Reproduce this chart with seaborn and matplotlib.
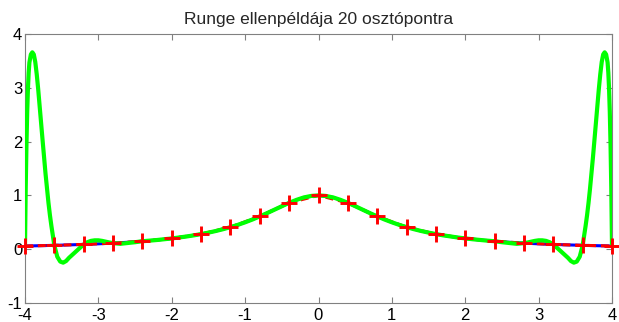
import matplotlib
matplotlib.use("Agg")
import matplotlib.pyplot as plt
import seaborn as sns

# ---------------------------------------------------------------
# DATA
# ---------------------------------------------------------------

title = "Runge ellenpéldája 20 osztópontra"

# original function, blue
func_x = [-4.0, -3.8, -3.6, -3.4, -3.2, -3.0, -2.8, -2.6, -2.4, -2.2,
          -2.0, -1.8, -1.6, -1.4, -1.2, -1.0, -0.8, -0.6, -0.4, -0.2,
          0.0, 0.2, 0.4, 0.6, 0.8, 1.0, 1.2, 1.4, 1.6, 1.8,
          2.0, 2.2, 2.4, 2.6, 2.8, 3.0, 3.2, 3.4, 3.6, 3.8, 4.0]
func_y = [0.059, 0.065, 0.072, 0.080, 0.089, 0.100, 0.113, 0.129, 0.148, 0.171,
          0.200, 0.236, 0.281, 0.338, 0.410, 0.500, 0.610, 0.735, 0.862, 0.962,
          1.000, 0.962, 0.862, 0.735, 0.610, 0.500, 0.410, 0.338, 0.281, 0.236,
          0.200, 0.171, 0.148, 0.129, 0.113, 0.100, 0.089, 0.080, 0.072, 0.065, 0.059]

# interpolation nodes, red
node_x = [-4.0, -3.6, -3.2, -2.8, -2.4, -2.0, -1.6, -1.2, -0.8, -0.4, 0.0,
          0.4, 0.8, 1.2, 1.6, 2.0, 2.4, 2.8, 3.2, 3.6, 4.0]
node_y = [0.059, 0.072, 0.089, 0.113, 0.148, 0.200, 0.281, 0.410, 0.610, 0.862, 1.000,
          0.862, 0.610, 0.410, 0.281, 0.200, 0.148, 0.113, 0.089, 0.072, 0.059]

# interpolating polynomial, green
poly_x = [-4.0, -3.99, -3.98, -3.97, -3.96, -3.95, -3.94, -3.92, -3.9, -3.88,
          -3.86, -3.84, -3.82, -3.8, -3.78, -3.76, -3.74, -3.72, -3.7, -3.68,
          -3.66, -3.64, -3.62, -3.6, -3.56, -3.52, -3.48, -3.44, -3.4, -3.36,
          -3.32, -3.28, -3.24, -3.2, -3.15, -3.1, -3.05, -3.0, -2.95, -2.9,
          -2.85, -2.8, -2.7, -2.6, -2.5, -2.4,
          -2.3, -2.2, -2.1, -2.0, -1.9, -1.8, -1.7, -1.6, -1.5, -1.4,
          -1.3, -1.2, -1.1, -1.0, -0.9, -0.8, -0.7, -0.6, -0.5, -0.4,
          -0.3, -0.2, -0.1, 0.0, 0.1, 0.2, 0.3, 0.4, 0.5, 0.6,
          0.7, 0.8, 0.9, 1.0, 1.1, 1.2, 1.3, 1.4, 1.5, 1.6,
          1.7, 1.8, 1.9, 2.0, 2.1, 2.2, 2.3,
          2.4, 2.5, 2.6, 2.7, 2.8, 2.85, 2.9, 2.95, 3.0, 3.05,
          3.1, 3.15, 3.2, 3.24, 3.28, 3.32, 3.36, 3.4, 3.44, 3.48,
          3.52, 3.56, 3.6, 3.62, 3.64, 3.66, 3.68, 3.7, 3.72, 3.74,
          3.76, 3.78, 3.8, 3.82, 3.84, 3.86, 3.88, 3.9, 3.92, 3.94,
          3.95, 3.96, 3.97, 3.98, 3.99, 4.0]
poly_y = [0.06, 1.15, 1.95, 2.55, 2.98, 3.28, 3.47, 3.62, 3.66, 3.62,
          3.48, 3.25, 2.97, 2.66, 2.34, 2.02, 1.70, 1.40, 1.12, 0.86,
          0.63, 0.43, 0.25, 0.07, -0.14, -0.23, -0.25, -0.22, -0.16, -0.11,
          -0.06, -0.01, 0.04, 0.089, 0.13, 0.155, 0.165, 0.165, 0.155, 0.14,
          0.125, 0.113, 0.10, 0.115, 0.13, 0.148,
          0.159, 0.171, 0.185, 0.200, 0.217, 0.236, 0.257, 0.281, 0.308, 0.338,
          0.372, 0.410, 0.452, 0.500, 0.552, 0.610, 0.671, 0.735, 0.800, 0.862,
          0.917, 0.962, 0.990, 1.000, 0.990, 0.962, 0.917, 0.862, 0.800, 0.735,
          0.671, 0.610, 0.552, 0.500, 0.452, 0.410, 0.372, 0.338, 0.308, 0.281,
          0.257, 0.236, 0.217, 0.200, 0.185, 0.171, 0.159,
          0.148, 0.13, 0.115, 0.10, 0.113, 0.125, 0.14, 0.155, 0.165, 0.165,
          0.155, 0.13, 0.089, 0.04, -0.01, -0.06, -0.11, -0.16, -0.22, -0.25,
          -0.23, -0.14, 0.07, 0.25, 0.43, 0.63, 0.86, 1.12, 1.40, 1.70,
          2.02, 2.34, 2.66, 2.97, 3.25, 3.48, 3.62, 3.66, 3.62, 3.47,
          3.28, 2.98, 2.55, 1.95, 1.15, 0.06]

x_ticks = [-4, -3, -2, -1, 0, 1, 2, 3, 4]
y_ticks = [-1, 0, 1, 2, 3, 4]

# ---------------------------------------------------------------
# PLOT
# ---------------------------------------------------------------

sns.set_style("white")
plt.rcParams["font.family"] = ["Liberation Sans", "DejaVu Sans"]

fig = plt.figure(figsize=(6.19, 3.22), dpi=100)
ax = fig.add_axes([25 / 619, 1 - 303 / 322, 587 / 619, 269 / 322])

# original function
sns.lineplot(x=func_x, y=func_y, color="#0000ff", linewidth=2.2, sort=False, ax=ax)

# nodes: dashed red line
sns.lineplot(x=node_x, y=node_y, color="#ff0000", linewidth=2.2,
             linestyle=(0, (2.6, 1.6)), sort=False, ax=ax, zorder=3)

# interpolating polynomial
sns.lineplot(x=poly_x, y=poly_y, color="#00ff00", linewidth=3.0, sort=False, ax=ax, zorder=4)

# red crosses at the nodes, drawn on top
sns.scatterplot(x=node_x, y=node_y, color="#ff0000", marker="+", s=135,
                linewidth=2.1, ax=ax, clip_on=False, zorder=5)

ax.set_xlim(-4, 4)
ax.set_ylim(-1, 4)
ax.set_xticks(x_ticks)
ax.set_yticks(y_ticks)
ax.set_xticklabels([str(t) for t in x_ticks])
ax.set_yticklabels([str(t) for t in y_ticks])

for side in ["top", "right", "bottom", "left"]:
    ax.spines[side].set_visible(True)
    ax.spines[side].set_color("#808080")
    ax.spines[side].set_linewidth(0.8)

ax.tick_params(direction="in", length=4.3, width=0.8, color="#808080",
               top=True, right=True, bottom=True, left=True,
               labelsize=12, labelcolor="black")
ax.tick_params(axis="x", pad=3.5)
ax.tick_params(axis="y", pad=2)

ax.set_title(title, fontsize=12.5, pad=7)

fig.savefig("out.png", dpi=100)
